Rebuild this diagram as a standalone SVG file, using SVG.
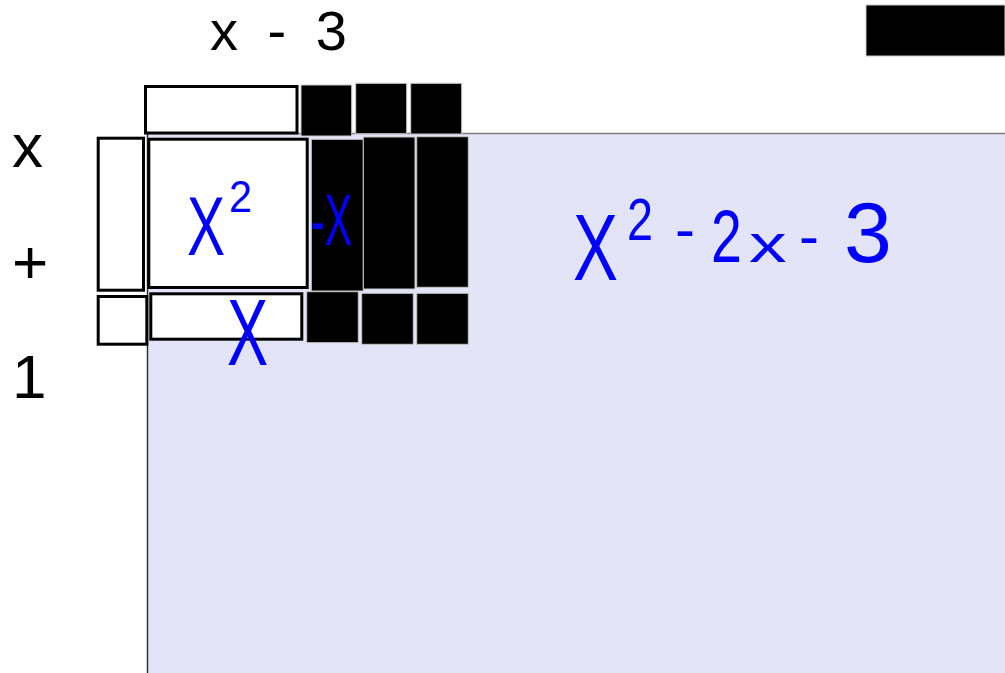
<svg xmlns="http://www.w3.org/2000/svg" width="1005" height="673" viewBox="0 0 1005 673">
<style>
.lbl{font-family:"Liberation Sans",Arial,sans-serif;fill:#000}
.wt{fill:#fff;stroke:#000;stroke-width:3}
.bk{fill:#000;stroke:#c8c8c8;stroke-width:1}
.ink{font-family:"Liberation Sans",Arial,sans-serif;fill:#0000ff}
</style>
<rect width="1005" height="673" fill="#fff"/>
<g id="mat">
<rect x="147.5" y="133.5" width="858" height="540" fill="#e3e4f8"/>
<line x1="147.5" y1="133.5" x2="1005" y2="133.5" stroke="#808080" stroke-width="1.5"/>
<line x1="147.5" y1="133.5" x2="147.5" y2="673" stroke="#333" stroke-width="1.5"/>
</g>
<g id="labels">
<text class="lbl" x="210" y="50" font-size="56" word-spacing="14">x - 3</text>
<text class="lbl" x="12" y="167" font-size="62">x</text>
<text class="lbl" x="12" y="283" font-size="62">+</text>
<text class="lbl" x="12" y="398" font-size="62">1</text>
</g>
<g id="corner-tile"><rect x="866" y="5" width="139" height="51" class="bk"/></g>
<g id="top-row">
<rect id="top-x" class="wt" x="145.5" y="86.5" width="151.5" height="46.5"/>
<rect class="bk" x="301" y="85" width="50.7" height="51"/>
<rect class="bk" x="355.7" y="83.3" width="51" height="50.4"/>
<rect class="bk" x="410.7" y="83.3" width="51" height="50.7"/>
</g>
<g id="left-col">
<rect class="wt" x="98.2" y="138.2" width="45.3" height="152"/>
<rect class="wt" x="98.2" y="296.5" width="48.6" height="47.7"/>
</g>
<g id="x-squared">
<rect class="wt" x="148.8" y="139.2" width="158.4" height="148.3"/>
</g>
<g id="neg-x-tiles">
<rect class="bk" x="311.3" y="139.3" width="52" height="151.7"/>
<rect class="bk" x="363.3" y="137" width="51.7" height="152"/>
<rect class="bk" x="416.7" y="136.7" width="51.6" height="150.6"/>
</g>
<g id="bottom-row">
<rect class="wt" x="150.8" y="293.8" width="151" height="45.4"/>
<rect class="bk" x="306.7" y="291.7" width="51.6" height="51"/>
<rect class="bk" x="361.7" y="293.3" width="51.6" height="51"/>
<rect class="bk" x="416.7" y="293.3" width="51.6" height="51"/>
</g>
<g id="ink">
<text class="ink" font-size="84" transform="translate(187 255) scale(0.68 1)">X</text>
<text class="ink" font-size="45" transform="translate(229 212) scale(0.92 1)">2</text>
<text class="ink" font-size="72" transform="translate(311 245) scale(0.57 1)">-X</text>
<text class="ink" font-size="95" transform="translate(227 365) scale(0.65 1)">X</text>
<text class="ink" font-size="95" transform="translate(573 280) scale(0.71 1)">X</text>
<text class="ink" font-size="60" transform="translate(627 240) scale(0.78 1)">2</text>
<text class="ink" font-size="60" transform="translate(675 249)">-</text>
<text class="ink" font-size="75" transform="translate(711 262) scale(0.74 1)">2</text>
<text class="ink" font-size="52" transform="translate(749 262) scale(1.45 1)">x</text>
<text class="ink" font-size="60" transform="translate(799 256)">-</text>
<text class="ink" font-size="86" transform="translate(844 262)">3</text>
</g>
</svg>
